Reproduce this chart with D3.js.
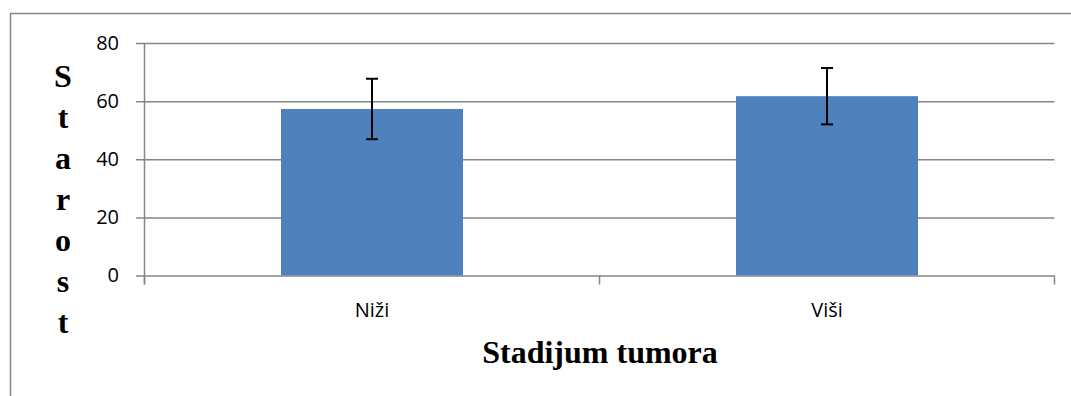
<!DOCTYPE html>
<html>
<head>
<meta charset="utf-8">
<script src="https://cdn.jsdelivr.net/npm/d3@7"></script>
<style>
  html, body { margin: 0; padding: 0; background: #fff; }
  svg { display: block; }
</style>
</head>
<body>
<svg id="chart" width="1071" height="396"></svg>
<script>
const categories = ["Niži", "Viši"];
const means = [57.3, 61.7];
const errors = [10.4, 9.7];
const yTicks = [0, 20, 40, 60, 80];
const yTitle = "Starost";
const xTitle = "Stadijum tumora";

(function () {
const svg = d3.select("#chart");
const pLeft = 144.5, pRight = 1054.5, pTop = 43, pBottom = 275.5;
const gridColor = "#868686";

// outer chart border
svg.append("rect")
  .attr("x", 10.5).attr("y", 13.5)
  .attr("width", 1200).attr("height", 600)
  .attr("fill", "none").attr("stroke", gridColor).attr("stroke-width", 1.5);

const y = d3.scaleLinear().domain([0, 80]).range([pBottom, pTop]);
const x = d3.scaleBand().domain(categories).range([pLeft, pRight])
  .paddingInner(0.6).paddingOuter(0.3);

// gridlines + y tick labels
const yAxis = d3.axisLeft(y).tickValues(yTicks)
  .tickSize(pRight - 136).tickPadding(17).tickFormat(d3.format("d"));
const gy = svg.append("g").attr("transform", `translate(${pRight},0)`).call(yAxis);
gy.select(".domain").remove();
gy.selectAll(".tick line").attr("stroke", gridColor).attr("stroke-width", 1.5);
gy.selectAll(".tick text")
  .attr("fill", "#000")
  .style("font-family", "'Open Sans', sans-serif")
  .style("font-size", "20px");

// vertical y axis line
svg.append("line")
  .attr("x1", pLeft).attr("x2", pLeft)
  .attr("y1", pTop).attr("y2", pBottom + 9)
  .attr("stroke", gridColor).attr("stroke-width", 1.5);

// x axis tick marks at category boundaries
const bounds = d3.range(categories.length + 1).map(i => pLeft + i * (pRight - pLeft) / categories.length);
svg.selectAll("line.xtick").data(bounds).join("line")
  .attr("class", "xtick")
  .attr("x1", d => d).attr("x2", d => d)
  .attr("y1", pBottom).attr("y2", pBottom + 9)
  .attr("stroke", gridColor).attr("stroke-width", 1.5);

// bars
svg.selectAll("rect.bar").data(categories).join("rect")
  .attr("class", "bar")
  .attr("x", d => x(d))
  .attr("width", x.bandwidth())
  .attr("y", (d, i) => y(means[i]))
  .attr("height", (d, i) => y(0) - y(means[i]))
  .attr("fill", "#4F81BD");

// error bars
const eb = svg.selectAll("g.err").data(categories).join("g").attr("class", "err");
eb.append("line")
  .attr("x1", d => x(d) + x.bandwidth() / 2).attr("x2", d => x(d) + x.bandwidth() / 2)
  .attr("y1", (d, i) => y(means[i] + errors[i])).attr("y2", (d, i) => y(means[i] - errors[i]))
  .attr("stroke", "#000").attr("stroke-width", 2);
[1, -1].forEach(s => {
  eb.append("line")
    .attr("x1", d => x(d) + x.bandwidth() / 2 - 6).attr("x2", d => x(d) + x.bandwidth() / 2 + 6)
    .attr("y1", (d, i) => y(means[i] + s * errors[i])).attr("y2", (d, i) => y(means[i] + s * errors[i]))
    .attr("stroke", "#000").attr("stroke-width", 2);
});

// category labels
svg.selectAll("text.cat").data(categories).join("text")
  .attr("class", "cat")
  .attr("x", d => x(d) + x.bandwidth() / 2)
  .attr("y", 316.5)
  .attr("text-anchor", "middle")
  .style("font-family", "'Open Sans', sans-serif")
  .style("font-size", "20px")
  .attr("fill", "#000")
  .text(d => d);

// x axis title
svg.append("text")
  .attr("x", 600).attr("y", 363)
  .attr("text-anchor", "middle")
  .style("font-family", "'Liberation Serif', 'Times New Roman', serif")
  .style("font-weight", "bold")
  .style("font-size", "32px")
  .attr("fill", "#000")
  .text(xTitle);

// y axis title (stacked letters)
const yt = svg.append("text")
  .attr("text-anchor", "middle")
  .style("font-family", "'Liberation Serif', 'Times New Roman', serif")
  .style("font-weight", "bold")
  .style("font-size", "32px")
  .attr("fill", "#000");
yt.selectAll("tspan").data(yTitle.split("")).join("tspan")
  .attr("x", 63)
  .attr("y", (d, i) => 86.5 + i * 41)
  .text(d => d);
})();
</script>
</body>
</html>
